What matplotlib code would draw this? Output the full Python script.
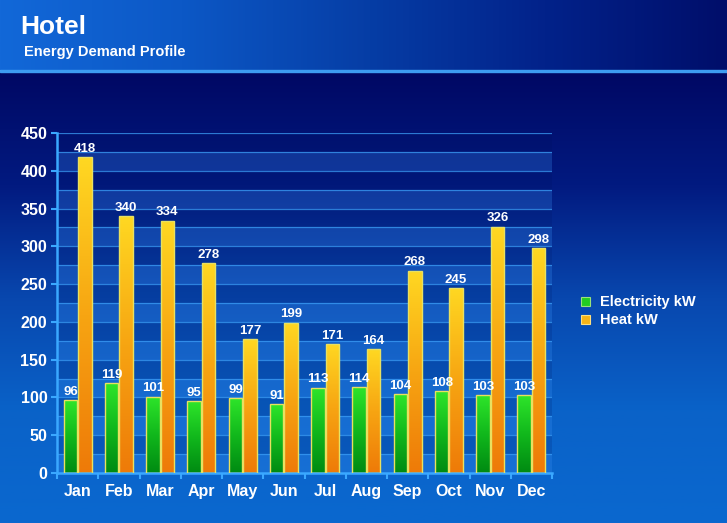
import numpy as np
import matplotlib
matplotlib.use("Agg")
import matplotlib.pyplot as plt
from matplotlib.colors import LinearSegmentedColormap
from matplotlib.patches import Rectangle

plt.rcParams['font.family'] = ['Liberation Sans', 'DejaVu Sans']

months = ["Jan", "Feb", "Mar", "Apr", "May", "Jun", "Jul", "Aug", "Sep", "Oct", "Nov", "Dec"]
electricity = [96, 119, 101, 95, 99, 91, 113, 114, 104, 108, 103, 103]
heat = [418, 340, 334, 278, 177, 199, 171, 164, 268, 245, 326, 298]
series_names = ["Electricity kW", "Heat kW"]
yticks = [0, 50, 100, 150, 200, 250, 300, 350, 400, 450]

W, H = 727, 523
fig = plt.figure(figsize=(W / 100, H / 100), dpi=100)

# background
bg = fig.add_axes([0, 0, 1, 1])
bg.set_xlim(0, W)
bg.set_ylim(H, 0)
bg.axis('off')
body_cmap = LinearSegmentedColormap.from_list('body', ['#000864', '#021a80', '#0847ae', '#0a62c8', '#0a68cf'])
grad = np.linspace(0, 1, 256).reshape(-1, 1)
bg.imshow(grad, extent=[0, W, H, 72], cmap=body_cmap, aspect='auto', zorder=0)
head_cmap = LinearSegmentedColormap.from_list('head', ['#1268d8', '#0c58c6', '#063ea6', '#02228a', '#000e6a'])
hgrad = np.linspace(0, 1, 256).reshape(1, -1)
bg.imshow(hgrad, extent=[0, W, 70, 0], cmap=head_cmap, aspect='auto', zorder=0)
bg.add_patch(Rectangle((0, 69.5), W, 2, color='#3d9cf2', zorder=1))
bg.text(20, 27, "Hotel", color='white', fontsize=19, fontweight='bold', va='center', ha='left')
bg.text(24, 52, "Energy Demand Profile", color='white', fontsize=10.5, fontweight='bold', va='center', ha='left')

# plot area
x0, x1, ytop, ybot = 57, 552, 133, 473
ax = fig.add_axes([x0 / W, 1 - ybot / H, (x1 - x0) / W, (ybot - ytop) / H])
ax.set_facecolor('none')
n = len(months)

for i, lo in enumerate(range(0, 450, 25)):
    if i % 2 == 0:
        ax.axhspan(lo, lo + 25, color='#3a8ef0', alpha=0.26, lw=0, zorder=0)
    else:
        ax.axhspan(lo, lo + 25, color='#00105a', alpha=0.15, lw=0, zorder=0)
for v in range(25, 451, 25):
    ax.axhline(v, color='#3a9cf5', lw=0.9, alpha=0.75, zorder=1)

green_cmap = LinearSegmentedColormap.from_list('g', ['#008a12', '#11b81c', '#2ee52a'])
orange_cmap = LinearSegmentedColormap.from_list('o', ['#ee7a08', '#f7a512', '#ffd822'])
vgrad = np.linspace(0, 1, 256).reshape(-1, 1)

bw = 0.33
xs = np.arange(n)
for vals, off, cmap in [(electricity, -bw / 2 - 0.01, green_cmap), (heat, bw / 2 + 0.01, orange_cmap)]:
    bars = ax.bar(xs + off, vals, width=bw, color='none', edgecolor='#e8e060', lw=1.0, zorder=3)
    for b, v in zip(bars, vals):
        xb, wb = b.get_x(), b.get_width()
        im = ax.imshow(vgrad, extent=[xb, xb + wb, 0, v], origin='lower', cmap=cmap,
                       aspect='auto', zorder=2)
        im.set_clip_path(b)
        ax.text(xb + wb / 2, v + 3, str(v), ha='center', va='bottom', color='white',
                fontsize=9.5, fontweight='bold', zorder=4)
ax.set_xlim(-0.5, n - 0.5)
ax.set_ylim(0, 450)

ax.set_xticks(np.arange(-0.5, n, 1), minor=True)
ax.set_xticks(xs)
ax.set_xticklabels(months)
ax.set_yticks(yticks)
ax.tick_params(axis='x', which='major', length=0, pad=8, labelsize=11.5, labelcolor='white')
ax.tick_params(axis='x', which='minor', length=4, color='#3aa8ff', width=1.5)
ax.tick_params(axis='y', length=4, color='#3aa8ff', width=1.5, labelsize=11.5, labelcolor='white', pad=3)
for lab in ax.get_xticklabels() + ax.get_yticklabels():
    lab.set_fontweight('bold')
for s in ['top', 'right']:
    ax.spines[s].set_visible(False)
for s in ['left', 'bottom']:
    ax.spines[s].set_color('#3aa8ff')
    ax.spines[s].set_linewidth(1.8)

bg.add_patch(Rectangle((581, 297), 9, 9, facecolor='#22cc22', edgecolor='#9be27a', lw=0.8, zorder=3))
bg.add_patch(Rectangle((581, 315), 9, 9, facecolor='#f8b418', edgecolor='#ffe080', lw=0.8, zorder=3))
bg.text(600, 302, series_names[0], color='white', fontsize=10.5, fontweight='bold', va='center')
bg.text(600, 320, series_names[1], color='white', fontsize=10.5, fontweight='bold', va='center')

fig.savefig('out.png', dpi=100)
